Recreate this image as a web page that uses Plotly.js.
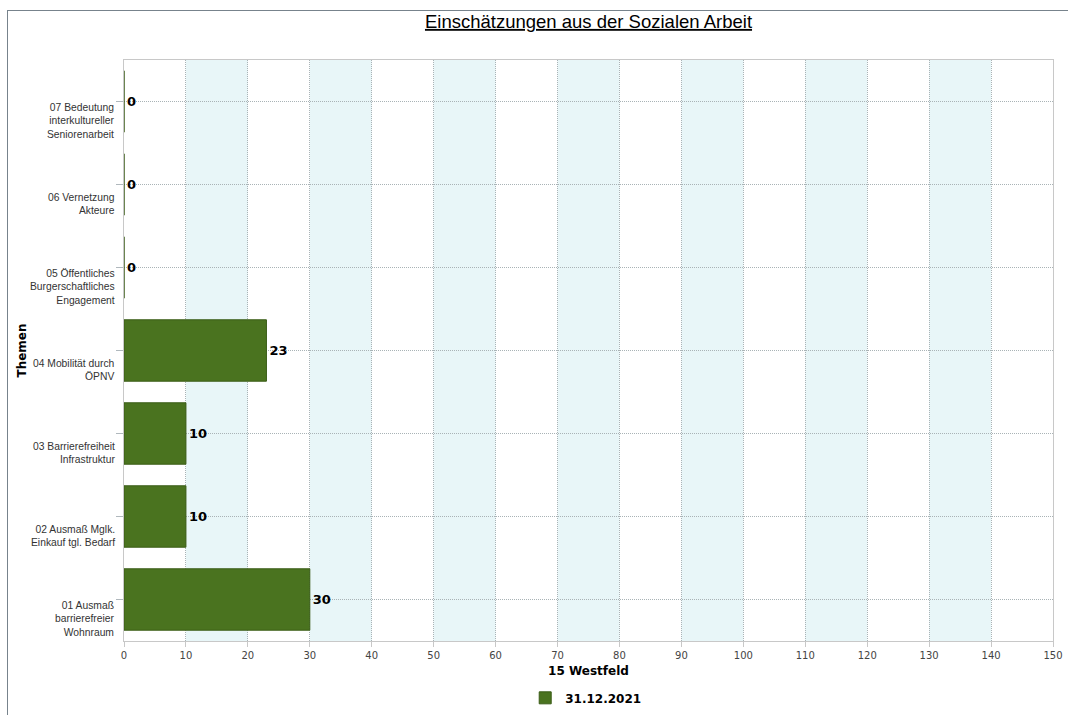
<!DOCTYPE html>
<html>
<head>
<meta charset="utf-8">
<script src="https://cdn.plot.ly/plotly-3.0.1.min.js"></script>
<style>
html,body{margin:0;padding:0;background:#fff;}
#frame{position:absolute;left:7px;top:10px;width:1070px;height:720px;border-left:1px solid #77838c;border-top:1px solid #77838c;box-sizing:border-box;pointer-events:none;z-index:5;}
#chart{width:1068px;height:715px;}
</style>
</head>
<body>
<div id="frame"></div>
<div id="chart"></div>
<script>
var categories = [
  "01 Ausmaß<br>barrierefreier<br>Wohnraum",
  "02 Ausmaß Mglk.<br>Einkauf tgl. Bedarf",
  "03 Barrierefreiheit<br>Infrastruktur",
  "04 Mobilität durch<br>ÖPNV",
  "05 Öffentliches<br>Burgerschaftliches<br>Engagement",
  "06 Vernetzung<br>Akteure",
  "07 Bedeutung<br>interkultureller<br>Seniorenarbeit"
];
var values = [30, 10, 10, 23, 0, 0, 0];
var seriesName = "31.12.2021";
var xTicks = [0,10,20,30,40,50,60,70,80,90,100,110,120,130,140,150];

var bandShapes = [];
for (var i = 1; i < xTicks.length - 1; i += 2) {
  bandShapes.push({
    type: 'rect', xref: 'x', yref: 'paper',
    x0: xTicks[i], x1: xTicks[i+1], y0: 0, y1: 1,
    fillcolor: '#e8f6f8', line: {width: 0}, layer: 'below'
  });
}

var labelAnnotations = categories.map(function (c) {
  return {
    xref: 'paper', yref: 'y', x: 0, y: c, text: c,
    xanchor: 'right', yanchor: 'middle', align: 'right',
    xshift: -7, yshift: -19, showarrow: false,
    font: {family: 'Liberation Sans, Arial, sans-serif', size: 10.3, color: '#333'}
  };
});
labelAnnotations.push({
  xref: 'paper', yref: 'paper', x: 0, y: 0.5, text: 'Themen',
  xanchor: 'center', yanchor: 'middle', xshift: -103, yshift: 0,
  textangle: -90, showarrow: false,
  font: {family: 'DejaVu Sans', size: 12, color: '#000', weight: 'bold'}
});

var trace = {
  type: 'bar', orientation: 'h',
  y: categories, x: values, name: seriesName,
  marker: {color: '#4a731f', line: {color: '#3a5c17', width: 1}},
  text: values.map(String), textposition: 'outside', cliponaxis: false,
  textfont: {family: 'DejaVu Sans', size: 13, color: '#000', weight: 'bold'},
  hoverinfo: 'x+y'
};

var layout = {
  width: 1068, height: 715,
  margin: {l: 124, r: 15, t: 60, b: 74, autoexpand: false},
  paper_bgcolor: '#fff', plot_bgcolor: '#fff',
  font: {family: 'Liberation Sans, Arial, sans-serif', color: '#333'},
  title: {
    text: '<u>Einschätzungen aus der Sozialen Arbeit</u>',
    font: {family: 'Liberation Sans, Arial, sans-serif', size: 18.5, color: '#000'},
    x: 0.5, xref: 'paper', xanchor: 'center', y: 0.97, yref: 'container', yanchor: 'middle'
  },
  bargap: 0.26,
  showlegend: true,
  legend: {
    orientation: 'h', x: 0.497, xanchor: 'center', y: 0.024, yref: 'container', yanchor: 'middle',
    font: {family: 'DejaVu Sans', size: 12, color: '#000', weight: 'bold'}
  },
  xaxis: {
    range: [0, 150], tickvals: xTicks, ticktext: xTicks.map(String),
    showgrid: true, gridcolor: '#a9b3b6', griddash: '1px,1px', gridwidth: 1,
    zeroline: false, showline: true, linecolor: '#c8c8c8', mirror: true,
    ticks: 'outside', ticklen: 5, tickcolor: '#c8c8c8',
    tickfont: {family: 'DejaVu Sans', size: 10, color: '#444'},
    automargin: false,
    title: {text: '15 Westfeld', standoff: 6, font: {family: 'DejaVu Sans', size: 12, color: '#000', weight: 'bold'}},
    fixedrange: true
  },
  yaxis: {
    type: 'category',
    showgrid: true, gridcolor: '#a9b3b6', griddash: '1px,1px', gridwidth: 1,
    showline: true, linecolor: '#c8c8c8', mirror: true,
    ticks: 'outside', ticklen: 7, tickcolor: '#b0b8bd',
    showticklabels: false, automargin: false,
    fixedrange: true
  },
  shapes: bandShapes,
  annotations: labelAnnotations
};

Plotly.newPlot('chart', [trace], layout, {displayModeBar: false, staticPlot: true});
</script>
</body>
</html>
